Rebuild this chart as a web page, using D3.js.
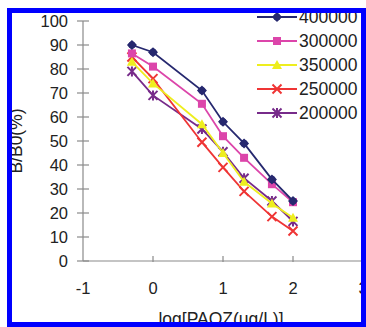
<!DOCTYPE html>
<html>
<head>
<meta charset="utf-8">
<script src="https://cdn.jsdelivr.net/npm/d3@7"></script>
<style>
  body { margin: 0; background: #fff; }
  svg { display: block; font-family: 'Liberation Sans', Arial, sans-serif; }
</style>
</head>
<body>
<div id="chart"></div>
<script>
// log concentration on the x axis
let logConc = [-0.301, 0, 0.699, 1, 1.301, 1.699, 2]

let s400000 = [90, 87, 71, 58, 49, 34, 25]
let s300000 = [86.5, 81, 65.5, 52, 43, 32, 24.5]
let s350000 = [83, 74, 57, 45, 33, 24, 18]
let s250000 = [85, 76, 49.5, 39, 29, 18.5, 12.5]
let s200000 = [79, 69, 55, 45.5, 34.5, 25, 16.5]

let seriesNames = ['400000', '300000', '350000', '250000', '200000']
let xTicks = [-1, 0, 1, 2, 3]
let yTicks = [0, 10, 20, 30, 40, 50, 60, 70, 80, 90, 100]

let width = 366
let height = 327

let seriesList = [
  { name: seriesNames[0], values: s400000, color: '#26286f', marker: 'diamond' },
  { name: seriesNames[1], values: s300000, color: '#dc45aa', marker: 'square' },
  { name: seriesNames[2], values: s350000, color: '#eeee1e', marker: 'triangle' },
  { name: seriesNames[3], values: s250000, color: '#ef3535', marker: 'x' },
  { name: seriesNames[4], values: s200000, color: '#772b8a', marker: 'star' }
]

let xScale = d3.scaleLinear().domain([-1, 3]).range([83, 363])
let yScale = d3.scaleLinear().domain([0, 100]).range([261, 21])

let svg = d3.select('#chart')
  .append('svg')
  .attr('width', width)
  .attr('height', height)

svg.append('rect')
  .attr('width', width)
  .attr('height', height)
  .attr('fill', '#fff')

// y axis with cross ticks
let yAxis = svg.append('g')
yAxis.append('line')
  .attr('x1', xScale(-1)).attr('x2', xScale(-1))
  .attr('y1', yScale(0)).attr('y2', yScale(100))
  .attr('stroke', '#8a8a8a')
  .attr('stroke-width', 1.2)
yAxis.selectAll('.ytick')
  .data(yTicks)
  .enter()
  .append('line')
  .attr('x1', xScale(-1) - 6).attr('x2', xScale(-1) + 6)
  .attr('y1', d => yScale(d)).attr('y2', d => yScale(d))
  .attr('stroke', '#8a8a8a')
  .attr('stroke-width', 1.2)
yAxis.selectAll('.ylabel')
  .data(yTicks)
  .enter()
  .append('text')
  .text(d => d)
  .attr('x', 68)
  .attr('y', d => yScale(d))
  .attr('dy', '0.35em')
  .attr('text-anchor', 'end')
  .attr('font-size', 16.5)
  .attr('fill', '#222')

// x axis
let xAxis = svg.append('g')
xAxis.append('line')
  .attr('x1', xScale(-1)).attr('x2', width)
  .attr('y1', yScale(0)).attr('y2', yScale(0))
  .attr('stroke', '#8a8a8a')
  .attr('stroke-width', 1.2)
xAxis.selectAll('.xtick')
  .data(xTicks.slice(1))
  .enter()
  .append('line')
  .attr('x1', d => xScale(d)).attr('x2', d => xScale(d))
  .attr('y1', yScale(0) - 5).attr('y2', yScale(0) + 1)
  .attr('stroke', '#8a8a8a')
  .attr('stroke-width', 1.2)
xAxis.selectAll('.xlabel')
  .data(xTicks)
  .enter()
  .append('text')
  .text(d => d)
  .attr('x', d => xScale(d))
  .attr('y', 294)
  .attr('text-anchor', 'middle')
  .attr('font-size', 16.5)
  .attr('fill', '#222')

svg.append('text')
  .text('log[PAOZ(ug/L)]')
  .attr('x', xScale(1) - 2)
  .attr('y', 325)
  .attr('text-anchor', 'middle')
  .attr('font-size', 17.5)
  .attr('fill', '#222')

svg.append('text')
  .text('B/B0(%)')
  .attr('transform', `translate(22, ${(yScale(0) + yScale(100)) / 2}) rotate(-90)`)
  .attr('text-anchor', 'middle')
  .attr('font-size', 17.5)
  .attr('fill', '#222')

function drawMarker(g, type, color) {
  if (type === 'diamond') {
    g.append('path').attr('d', 'M0,-5L5,0L0,5L-5,0Z').attr('fill', color)
    g.append('circle').attr('r', 3.6).attr('fill', color)
  } else if (type === 'square') {
    g.append('rect').attr('x', -4).attr('y', -4).attr('width', 8).attr('height', 8).attr('fill', color)
  } else if (type === 'triangle') {
    g.append('path').attr('d', 'M0,-5L5,4L-5,4Z').attr('fill', color)
  } else if (type === 'x') {
    g.append('path').attr('d', 'M-4.5,-4.5L4.5,4.5M-4.5,4.5L4.5,-4.5')
      .attr('stroke', color).attr('stroke-width', 2).attr('fill', 'none')
  } else {
    g.append('path').attr('d', 'M-4.5,-4.5L4.5,4.5M-4.5,4.5L4.5,-4.5M0,-5L0,5')
      .attr('stroke', color).attr('stroke-width', 2).attr('fill', 'none')
  }
}

let line = d3.line()
  .x((d, i) => xScale(logConc[i]))
  .y(d => yScale(d))

// draw back to front so the first series sits on top
seriesList.slice().reverse().forEach(s => {
  let g = svg.append('g')
  g.append('path')
    .datum(s.values)
    .attr('d', line)
    .attr('fill', 'none')
    .attr('stroke', s.color)
    .attr('stroke-width', 1.8)
  g.selectAll('.pt')
    .data(s.values)
    .enter()
    .append('g')
    .attr('transform', (d, i) => `translate(${xScale(logConc[i])},${yScale(d)})`)
    .each(function() {
      drawMarker(d3.select(this), s.marker, s.color)
    })
})

// legend
let legend = svg.selectAll('.legend')
  .data(seriesList)
  .enter()
  .append('g')
  .attr('transform', (d, i) => `translate(257, ${17 + i * 24})`)
legend.append('line')
  .attr('x1', 0).attr('x2', 40)
  .attr('stroke', d => d.color)
  .attr('stroke-width', 1.8)
legend.append('g')
  .attr('transform', 'translate(20,0)')
  .each(function(d) {
    drawMarker(d3.select(this), d.marker, d.color)
  })
legend.append('text')
  .text(d => d.name)
  .attr('x', 42)
  .attr('dy', '0.36em')
  .attr('font-size', 17.5)
  .attr('fill', '#222')

// blue frame
let frame = svg.append('g').attr('fill', '#0000ff')
frame.append('rect').attr('x', 7).attr('y', 8).attr('width', width - 7).attr('height', 5)
frame.append('rect').attr('x', 7).attr('y', 8).attr('width', 5).attr('height', height - 8)
frame.append('rect').attr('x', 361).attr('y', 8).attr('width', 5).attr('height', height - 8)
frame.append('rect').attr('x', 7).attr('y', 322).attr('width', width - 7).attr('height', 5)
</script>
</body>
</html>
